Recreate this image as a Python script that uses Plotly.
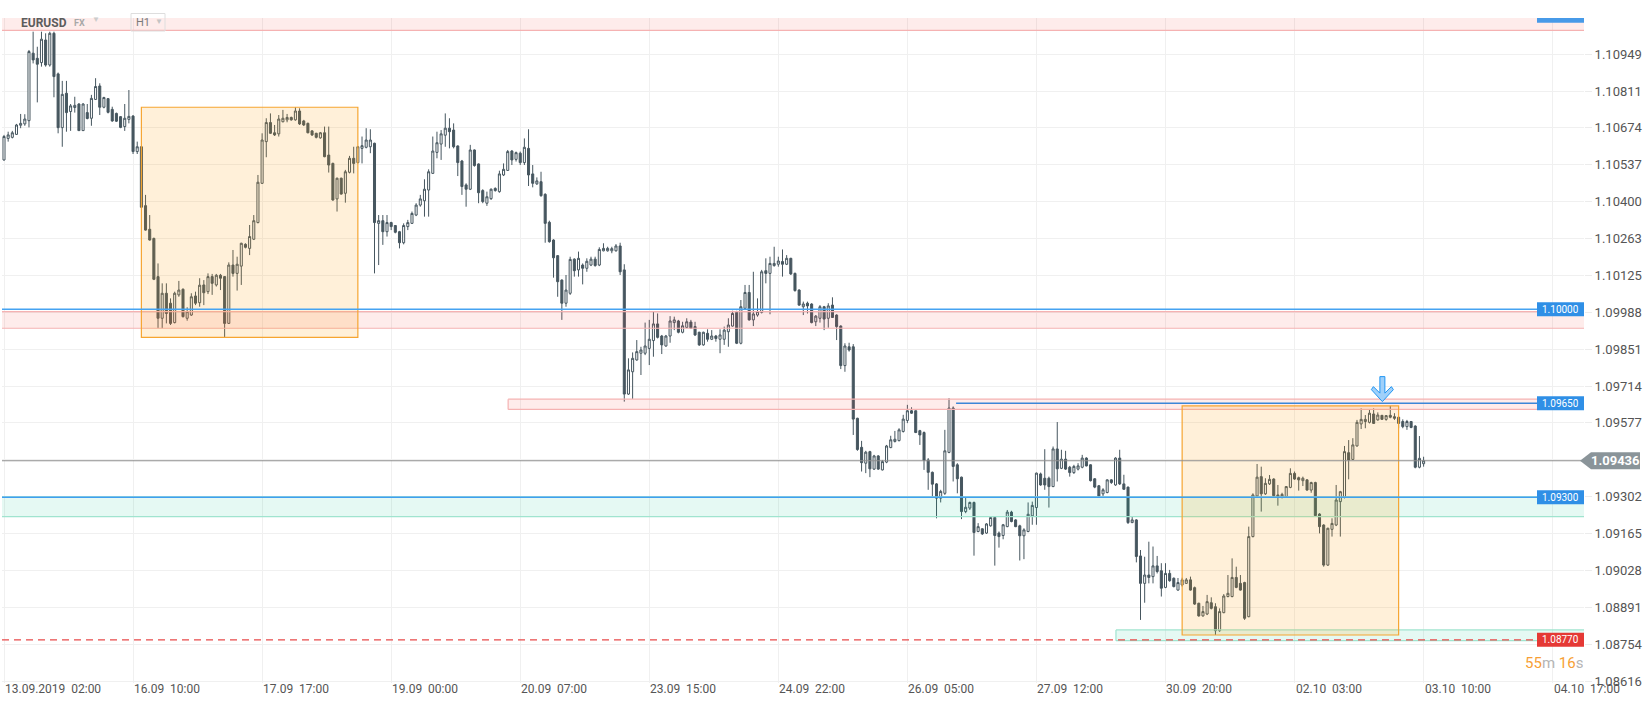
import plotly.graph_objects as go

# ---------------- data (prices in points, 1 point = 0.00001) ----------------
open_pts = [
    110555, 110635, 110639, 110650, 110684, 110689, 110701, 110952, 110933, 110917,
    111001, 110908, 111026, 110875, 110675, 110803, 110735, 110750, 110763, 110664,
    110731, 110710, 110780, 110830, 110751, 110783, 110743, 110728, 110716, 110679,
    110706, 110718, 110586, 110604, 110385, 110297, 110263, 110121, 109966, 110059,
    110022, 109950, 110053, 110074, 109966, 109978, 110049, 110024, 110090, 110065,
    110121, 110090, 110126, 110121, 109947, 110164, 110133, 110160, 110241, 110226,
    110260, 110322, 110468, 110623, 110694, 110656, 110652, 110697, 110704, 110713,
    110704, 110737, 110700, 110691, 110663, 110654, 110637, 110656, 110573, 110542,
    110410, 110487, 110431, 110509, 110561, 110545, 110598, 110602, 110604, 110617,
    110319, 110329, 110288, 110322, 110311, 110288, 110247, 110307, 110319, 110350,
    110387, 110403, 110443, 110505, 110583, 110614, 110647, 110673, 110666, 110607,
    110551, 110462, 110446, 110592, 110540, 110441, 110394, 110411, 110449, 110437,
    110499, 110516, 110588, 110557, 110580, 110545, 110598, 110503, 110466, 110474,
    110427, 110323, 110257, 110199, 110108, 110022, 110059, 110186, 110146, 110164,
    110152, 110164, 110186, 110164, 110217, 110217, 110217, 110217, 110235, 110146,
    109684, 109767, 109811, 109836, 109836, 109854, 109883, 109945, 109900, 109863,
    109900, 109950, 109956, 109914, 109932, 109952, 109935, 109914, 109867, 109910,
    109888, 109900, 109888, 109888, 109916, 109937, 109988, 109873, 110003, 110062,
    109960, 109978, 109988, 110143, 110133, 110162, 110167, 110177, 110167, 110189,
    110133, 110071, 110009, 110022, 110019, 109953, 109966, 110009, 109966, 110015,
    109978, 109937, 109790, 109860, 109860, 109594, 109486, 109427, 109470, 109405,
    109454, 109402, 109431, 109485, 109508, 109511, 109545, 109586, 109622, 109622,
    109548, 109541, 109439, 109393, 109350, 109297, 109315, 109467, 109632, 109421,
    109375, 109247, 109260, 109281, 109173, 109183, 109167, 109194, 109225, 109167,
    109158, 109191, 109245, 109216, 109194, 109157, 109173, 109231, 109262, 109387,
    109371, 109371, 109340, 109480, 109408, 109442, 109412, 109392, 109405, 109412,
    109446, 109421, 109369, 109343, 109313, 109318, 109365, 109346, 109446, 109350,
    109338, 109206, 109216, 109082, 108980, 109011, 109005, 109045, 109027, 108965,
    109017, 108999, 108955, 108974, 108980, 108993, 108964, 108906, 108859, 108866,
    108908, 108893, 108804, 108871, 108931, 108931, 109002, 108980, 108983, 108856,
    109154, 109305, 109377, 109313, 109350, 109368, 109303, 109300, 109303, 109337,
    109389, 109373, 109362, 109365, 109327, 109355, 109238, 109197, 109048, 109181,
    109197, 109284, 109300, 109466, 109441, 109491, 109573, 109582, 109579, 109610,
    109588, 109605, 109590, 109605, 109600, 109598, 109582, 109563, 109582, 109565,
    109412, 109425,
]
high_pts = [
    110648, 110660, 110663, 110689, 110726, 110725, 110964, 111032, 110976, 111032,
    111026, 111032, 111032, 110880, 110849, 110849, 110763, 110790, 110766, 110766,
    110763, 110797, 110859, 110840, 110790, 110785, 110753, 110731, 110718, 110763,
    110815, 110722, 110623, 110607, 110425, 110350, 110266, 110170, 110096, 110096,
    110040, 110065, 110105, 110077, 110007, 110059, 110065, 110115, 110108, 110133,
    110131, 110131, 110131, 110123, 110174, 110220, 110195, 110247, 110245, 110313,
    110350, 110499, 110654, 110710, 110728, 110685, 110722, 110741, 110726, 110716,
    110751, 110747, 110704, 110694, 110666, 110656, 110659, 110679, 110679, 110545,
    110489, 110489, 110518, 110570, 110604, 110607, 110642, 110673, 110669, 110619,
    110350, 110350, 110350, 110325, 110313, 110291, 110319, 110332, 110363, 110394,
    110425, 110483, 110520, 110642, 110660, 110666, 110728, 110710, 110691, 110609,
    110555, 110468, 110611, 110594, 110542, 110446, 110437, 110449, 110453, 110515,
    110542, 110592, 110592, 110586, 110586, 110635, 110669, 110536, 110490, 110511,
    110431, 110329, 110260, 110201, 110111, 110127, 110195, 110189, 110214, 110170,
    110189, 110195, 110195, 110230, 110245, 110232, 110232, 110242, 110247, 110167,
    109817, 109839, 109885, 109860, 109950, 109960, 109991, 109984, 109904, 109904,
    109974, 109972, 109960, 109953, 109966, 109960, 109953, 109916, 109916, 109925,
    109922, 109904, 109925, 109935, 109966, 109994, 109994, 110034, 110090, 110090,
    110139, 110040, 110146, 110189, 110195, 110232, 110195, 110222, 110201, 110191,
    110136, 110074, 110028, 110028, 110022, 109978, 110015, 110012, 110022, 110044,
    109981, 109940, 109873, 109875, 109870, 109596, 109510, 109473, 109473, 109458,
    109457, 109439, 109495, 109529, 109547, 109557, 109607, 109644, 109635, 109623,
    109551, 109545, 109446, 109396, 109353, 109328, 109551, 109669, 109638, 109427,
    109377, 109300, 109284, 109284, 109204, 109185, 109204, 109229, 109229, 109173,
    109201, 109253, 109250, 109219, 109198, 109185, 109281, 109284, 109392, 109392,
    109479, 109377, 109489, 109580, 109477, 109473, 109417, 109421, 109427, 109458,
    109449, 109423, 109371, 109346, 109334, 109367, 109367, 109449, 109477, 109384,
    109340, 109229, 109219, 109104, 109079, 109135, 109117, 109082, 109055, 109055,
    109030, 109002, 109000, 109001, 109000, 109005, 108968, 108908, 108896, 108937,
    108928, 108906, 108887, 108940, 109011, 109073, 109042, 109011, 108986, 109191,
    109315, 109424, 109414, 109371, 109383, 109371, 109346, 109317, 109342, 109408,
    109396, 109377, 109377, 109367, 109358, 109358, 109241, 109200, 109187, 109222,
    109346, 109324, 109491, 109513, 109520, 109588, 109631, 109606, 109627, 109631,
    109616, 109606, 109606, 109640, 109613, 109600, 109590, 109588, 109584, 109568,
    109528, 109451,
]
low_pts = [
    110552, 110623, 110635, 110648, 110673, 110682, 110676, 110914, 110769, 110902,
    110902, 110902, 110788, 110654, 110604, 110660, 110663, 110731, 110664, 110663,
    110706, 110682, 110778, 110722, 110747, 110728, 110697, 110696, 110673, 110663,
    110691, 110577, 110577, 110376, 110292, 110255, 110108, 109929, 109929, 109947,
    109941, 109947, 110046, 109969, 109957, 109975, 110015, 110009, 110015, 110056,
    110053, 110084, 110071, 109895, 109945, 110121, 110069, 110090, 110226, 110201,
    110257, 110319, 110466, 110565, 110652, 110644, 110642, 110695, 110695, 110701,
    110701, 110685, 110681, 110654, 110644, 110635, 110634, 110565, 110508, 110403,
    110363, 110426, 110396, 110505, 110505, 110542, 110542, 110598, 110580, 110133,
    110164, 110239, 110270, 110294, 110282, 110226, 110241, 110294, 110317, 110346,
    110381, 110344, 110344, 110503, 110561, 110555, 110604, 110598, 110598, 110495,
    110425, 110381, 110443, 110530, 110394, 110394, 110384, 110406, 110437, 110433,
    110495, 110514, 110536, 110549, 110536, 110536, 110458, 110453, 110462, 110418,
    110247, 110247, 110117, 110046, 109960, 110009, 110053, 110121, 110121, 110092,
    110139, 110160, 110158, 110160, 110215, 110214, 110208, 110214, 110127, 109656,
    109681, 109666, 109808, 109755, 109829, 109792, 109823, 109891, 109833, 109860,
    109875, 109922, 109910, 109910, 109929, 109926, 109900, 109863, 109864, 109879,
    109885, 109879, 109836, 109867, 109860, 109935, 109870, 109869, 109999, 109957,
    109937, 109972, 109984, 110096, 109981, 110158, 110158, 110121, 110164, 110127,
    110065, 110012, 109978, 109984, 109947, 109937, 109950, 109922, 109931, 109967,
    109885, 109777, 109767, 109842, 109532, 109473, 109396, 109390, 109375, 109402,
    109402, 109400, 109427, 109483, 109504, 109508, 109541, 109576, 109610, 109539,
    109495, 109402, 109328, 109303, 109222, 109281, 109309, 109464, 109359, 109315,
    109219, 109241, 109253, 109083, 109170, 109160, 109164, 109191, 109046, 109113,
    109144, 109189, 109207, 109189, 109065, 109070, 109170, 109198, 109198, 109343,
    109328, 109262, 109338, 109359, 109405, 109402, 109377, 109387, 109400, 109408,
    109415, 109359, 109334, 109303, 109305, 109315, 109350, 109343, 109346, 109328,
    109201, 109204, 109058, 108844, 108908, 108980, 108980, 109017, 108931, 108962,
    108986, 108965, 108953, 108968, 108978, 108953, 108900, 108856, 108856, 108862,
    108883, 108788, 108800, 108869, 108928, 108928, 108962, 108953, 108844, 108854,
    109151, 109303, 109247, 109309, 109346, 109303, 109269, 109296, 109300, 109334,
    109365, 109325, 109342, 109325, 109317, 109228, 109166, 109042, 109045, 109154,
    109193, 109154, 109296, 109367, 109439, 109489, 109554, 109557, 109575, 109573,
    109585, 109588, 109585, 109594, 109588, 109557, 109557, 109551, 109557, 109408,
    109408, 109414,
]
close_pts = [
    110642, 110648, 110656, 110685, 110691, 110707, 110958, 110927, 110911, 111004,
    110908, 111026, 110865, 110675, 110799, 110731, 110756, 110758, 110664, 110763,
    110709, 110784, 110828, 110751, 110787, 110732, 110700, 110699, 110676, 110710,
    110717, 110586, 110604, 110379, 110294, 110257, 110111, 109966, 110059, 109984,
    109947, 110059, 110071, 109972, 109991, 110046, 110022, 110089, 110061, 110121,
    110096, 110126, 110115, 109947, 110164, 110133, 110167, 110245, 110230, 110270,
    110329, 110472, 110629, 110694, 110654, 110648, 110707, 110710, 110713, 110704,
    110737, 110689, 110685, 110656, 110648, 110639, 110656, 110567, 110536, 110406,
    110487, 110428, 110511, 110561, 110542, 110604, 110608, 110629, 110629, 110322,
    110329, 110288, 110322, 110307, 110286, 110247, 110311, 110322, 110356, 110387,
    110410, 110446, 110511, 110588, 110619, 110652, 110673, 110660, 110604, 110545,
    110456, 110446, 110592, 110534, 110433, 110400, 110418, 110446, 110441, 110503,
    110520, 110586, 110555, 110582, 110545, 110602, 110499, 110468, 110477, 110422,
    110319, 110251, 110191, 110102, 110022, 110071, 110185, 110143, 110189, 110152,
    110178, 110186, 110162, 110222, 110226, 110226, 110225, 110235, 110139, 109684,
    109774, 109817, 109842, 109848, 109863, 109888, 109945, 109895, 109867, 109900,
    109956, 109960, 109914, 109938, 109953, 109929, 109904, 109867, 109914, 109888,
    109900, 109891, 109904, 109922, 109941, 109984, 109873, 110009, 110062, 109960,
    109982, 109991, 110139, 110133, 110170, 110170, 110179, 110167, 110189, 110131,
    110069, 110015, 110019, 110012, 109950, 109974, 110009, 109963, 110012, 109969,
    109935, 109790, 109863, 109848, 109591, 109478, 109429, 109468, 109406, 109454,
    109405, 109433, 109491, 109514, 109516, 109551, 109591, 109622, 109613, 109541,
    109532, 109437, 109393, 109349, 109297, 109322, 109473, 109632, 109415, 109369,
    109247, 109263, 109281, 109169, 109191, 109164, 109201, 109225, 109158, 109154,
    109198, 109245, 109210, 109191, 109157, 109179, 109237, 109270, 109390, 109346,
    109346, 109340, 109480, 109406, 109442, 109405, 109392, 109415, 109417, 109446,
    109417, 109362, 109338, 109305, 109328, 109365, 109355, 109446, 109350, 109330,
    109206, 109216, 109080, 108980, 109011, 109002, 109045, 109024, 108962, 109017,
    108990, 108968, 108983, 108993, 108993, 108955, 108903, 108859, 108875, 108912,
    108887, 108804, 108875, 108933, 108943, 109002, 108965, 108955, 108850, 109154,
    109309, 109375, 109313, 109352, 109367, 109306, 109309, 109311, 109340, 109389,
    109368, 109365, 109371, 109327, 109355, 109232, 109191, 109048, 109185, 109203,
    109290, 109321, 109470, 109439, 109495, 109579, 109590, 109590, 109613, 109575,
    109606, 109590, 109604, 109598, 109594, 109575, 109563, 109582, 109560, 109412,
    109445, 109436,
]

x_tick_index = [0, 31, 62, 93, 124, 155, 186, 217, 248, 279, 310, 341, 372]
x_tick_text = ["13.09.2019  02:00", "16.09  10:00", "17.09  17:00", "19.09  00:00",
               "20.09  07:00", "23.09  15:00", "24.09  22:00", "26.09  05:00",
               "27.09  12:00", "30.09  20:00", "02.10  03:00", "03.10  10:00",
               "04.10  17:00"]
y_tick_values = [1.10949, 1.10811, 1.10674, 1.10537, 1.10400, 1.10263, 1.10125,
                 1.09988, 1.09851, 1.09714, 1.09577, 1.09439, 1.09302, 1.09165,
                 1.09028, 1.08891, 1.08754, 1.08616]

# horizontal levels / zones
level_blue = [1.10000, 1.09650, 1.09300]
level_red = 1.08770
zone_top = (1.11037, 1.11200)
zone_1100 = (1.09929, 1.09991)
zone_1096 = (1.09627, 1.09665)
zone_1093 = (1.09228, 1.09302)
zone_1088 = (1.08767, 1.08807)
zone_1096_start = 121.1
line_1096_start = 228.7
zone_1088_start = 267.1
box_ranges = [(33, 85), (283, 335)]
arrow_index = 331.1
arrow_price = 1.09656

P = 1e-5
opens = [v * P for v in open_pts]
highs = [v * P for v in high_pts]
lows = [v * P for v in low_pts]
closes = [v * P for v in close_pts]
xs = list(range(len(opens)))
last = closes[-1]

DARK = "#46565f"
GRID = "#f0f0f0"
PINK_FILL = "rgba(244,67,54,0.10)"
PINK_LINE = "#f5b2b2"
GREEN_FILL = "rgba(0,200,140,0.10)"
GREEN_LINE = "#a0e4cf"
BLUE = "#2f8fe6"
FONT = "Roboto"

fig = go.Figure(go.Candlestick(
    x=xs, open=opens, high=highs, low=lows, close=closes,
    increasing=dict(line=dict(color=DARK, width=1), fillcolor="white"),
    decreasing=dict(line=dict(color=DARK, width=1), fillcolor=DARK),
    whiskerwidth=0, hoverinfo="skip",
))

XMIN, XMAX = -0.48, 379.53
YMIN, YMAX = 1.086094, 1.110829

shapes = []
annotations = []


def hline(y, color, width=1, x0=XMIN, x1=XMAX + 5, dash="solid"):
    shapes.append(dict(type="line", xref="x", yref="y", x0=x0, x1=x1, y0=y, y1=y,
                       line=dict(color=color, width=width, dash=dash), layer="above"))


def zone(y0, y1, fill, edge, x0=XMIN - 5, x1=XMAX + 5, left_edge=False):
    shapes.append(dict(type="rect", xref="x", yref="y", x0=x0, x1=x1, y0=y0, y1=y1,
                       fillcolor=fill, line=dict(width=0), layer="above"))
    hline(y0, edge, 1.2, x0, x1)
    hline(y1, edge, 1.2, x0, x1)
    if left_edge:
        shapes.append(dict(type="line", xref="x", yref="y", x0=x0, x1=x0, y0=y0, y1=y1,
                           line=dict(color=edge, width=1.2), layer="above"))


# zones
zone(zone_top[0], zone_top[1], PINK_FILL, PINK_LINE)
zone(zone_1100[0], zone_1100[1], PINK_FILL, PINK_LINE)
zone(zone_1096[0], zone_1096[1], PINK_FILL, PINK_LINE, x0=zone_1096_start, left_edge=True)
zone(zone_1093[0], zone_1093[1], GREEN_FILL, GREEN_LINE)
zone(zone_1088[0], zone_1088[1], GREEN_FILL, GREEN_LINE, x0=zone_1088_start, left_edge=True)

# orange boxes from data extents
for a, b in box_ranges:
    shapes.append(dict(type="rect", xref="x", yref="y", x0=a, x1=b,
                       y0=min(lows[a:b + 1]), y1=max(highs[a:b + 1]),
                       fillcolor="rgba(255,152,0,0.15)", line=dict(color="#f6a531", width=1.2),
                       layer="above"))

# levels
hline(level_blue[0], "#45a3f2", 1.5)
hline(level_blue[1], "#3b86d8", 1.5, x0=line_1096_start)
hline(level_blue[2], "#3f9ff0", 1.5)
hline(level_red, "#e84a4a", 1.3, dash="7px,5px")
hline(last, "#8e8e8e", 1.2)

# arrow marker (pixel sized)
shapes.append(dict(type="path", xref="x", yref="y", xsizemode="pixel", ysizemode="pixel",
                   xanchor=arrow_index, yanchor=arrow_price,
                   path="M -2.5 25 L 2.5 25 L 2.5 8.5 L 9 15 L 11 12 L 0 0 L -11 12 L -9 15 L -2.5 8.5 Z",
                   fillcolor="#9fd0fa", line=dict(color="#2196f3", width=1), layer="above"))

# right-side price labels
PLOT_L, PLOT_R = 2, 1584
PW = PLOT_R - PLOT_L


def px2paper(px):
    return (px - PLOT_L) / PW


half = 0.00026
for val, col in [(level_blue[0], BLUE), (level_blue[1], BLUE), (level_blue[2], BLUE), (level_red, "#e53935")]:
    shapes.append(dict(type="rect", xref="paper", yref="y", x0=px2paper(1537), x1=1.0,
                       y0=val - half, y1=val + half, fillcolor=col, line=dict(width=0), layer="above"))
    annotations.append(dict(xref="paper", yref="y", x=px2paper(1560.5), y=val, text=f"{val:.5f}",
                            showarrow=False, font=dict(family=FONT, size=10, color="white"),
                            xanchor="center", yanchor="middle", height=11, borderpad=0))

# top clipped label bar
shapes.append(dict(type="rect", xref="paper", yref="paper", x0=px2paper(1537), x1=1.0,
                   y0=0.993, y1=1.0, fillcolor="#479ae8", line=dict(width=0), layer="above"))

# current price label (arrow-shaped)
h = 8.5 / 26885
xa, xb, xc = px2paper(1580), px2paper(1591), px2paper(1640)
shapes.append(dict(type="path", xref="paper", yref="y",
                   path=f"M {xa} {last} L {xb} {last + h} L {xc} {last + h} L {xc} {last - h} L {xb} {last - h} Z",
                   fillcolor="#8a9499", line=dict(width=0), layer="above"))
annotations.append(dict(xref="paper", yref="y", x=px2paper(1615), y=last, text=f"<b>{last:.5f}</b>",
                        showarrow=False, font=dict(family=FONT, size=13, color="white"),
                        xanchor="center", yanchor="middle"))

# countdown
annotations.append(dict(xref="paper", yref="paper", x=1.0, y=(683 - 662) / 665,
                        text='<span style="color:#f7a035">55</span><span style="color:#b5b5b5">m</span> '
                             '<span style="color:#f7a035">16</span><span style="color:#b5b5b5">s</span>',
                        showarrow=False, font=dict(family=FONT, size=15), xanchor="right", yanchor="middle",
                        borderpad=0, height=15))

# header
annotations.append(dict(xref="paper", yref="paper", x=px2paper(19), y=(683 - 22.5) / 665, text="<b>EURUSD</b>",
                        showarrow=False, font=dict(family=FONT, size=12, color="#5c5c5c"),
                        xanchor="left", yanchor="middle"))
annotations.append(dict(xref="paper", yref="paper", x=px2paper(72), y=(683 - 22.5) / 665, text="<b>FX</b>",
                        showarrow=False, font=dict(family=FONT, size=9, color="#a8a8a8"),
                        xanchor="left", yanchor="middle"))
annotations.append(dict(xref="paper", yref="paper", x=px2paper(90), y=(683 - 20) / 665, text="▼",
                        showarrow=False, font=dict(family=FONT, size=8, color="#cccccc"),
                        xanchor="left", yanchor="middle"))
shapes.append(dict(type="rect", xref="paper", yref="paper", x0=px2paper(131), x1=px2paper(165),
                   y0=(683 - 31) / 665, y1=(683 - 13.5) / 665, fillcolor="rgba(0,0,0,0)",
                   line=dict(color="#dedede", width=1), layer="above"))
annotations.append(dict(xref="paper", yref="paper", x=px2paper(134), y=(683 - 22.5) / 665, text="H1",
                        showarrow=False, font=dict(family=FONT, size=11, color="#7a7a7a"),
                        xanchor="left", yanchor="middle"))
annotations.append(dict(xref="paper", yref="paper", x=px2paper(153), y=(683 - 22) / 665, text="▼",
                        showarrow=False, font=dict(family=FONT, size=8, color="#c4c4c4"),
                        xanchor="left", yanchor="middle"))

# x-axis labels (left-aligned at grid lines)
for idx, txt in zip(x_tick_index, x_tick_text):
    annotations.append(dict(xref="x", yref="paper", x=idx, y=(683 - 688.5) / 665,
                            text=txt.replace("  ", "\u00a0\u00a0"), showarrow=False,
                            font=dict(family=FONT, size=12, color="#555555"),
                            xanchor="left", yanchor="middle", xshift=-1))

y_tick_text = [f"{v:.5f}" if abs(v - last) > 0.0004 else "" for v in y_tick_values]

fig.update_layout(
    width=1652, height=707,
    margin=dict(l=PLOT_L, r=1652 - PLOT_R, t=18, b=24),
    paper_bgcolor="white", plot_bgcolor="white",
    showlegend=False, hovermode=False,
    font=dict(family=FONT),
    xaxis=dict(range=[XMIN, XMAX], rangeslider=dict(visible=False), tickvals=x_tick_index,
               showticklabels=False, showgrid=True, gridcolor=GRID, gridwidth=1,
               zeroline=False, showline=False, ticks=""),
    yaxis=dict(side="right", range=[YMIN, YMAX], tickvals=y_tick_values, ticktext=y_tick_text,
               showgrid=True, gridcolor=GRID, gridwidth=1, ticks="outside", ticklen=7, tickcolor="#ececec",
               tickfont=dict(family=FONT, size=13, color="#555555"), zeroline=False, showline=False),
    shapes=shapes, annotations=annotations,
)

fig.write_html("out.html", config={"displayModeBar": False},
               post_script="document.body.style.margin='0px';document.body.style.overflow='hidden';")
